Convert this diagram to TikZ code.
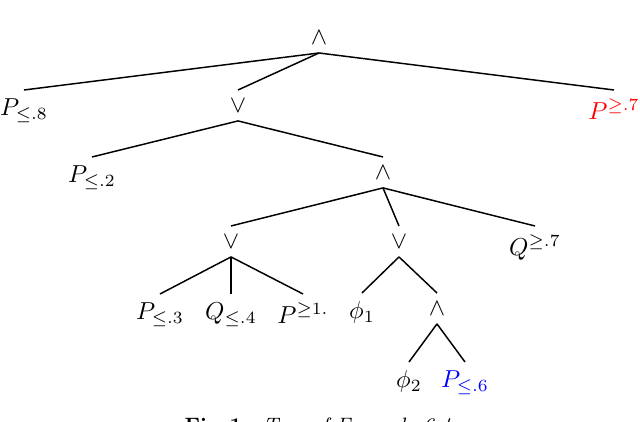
\documentclass[tikz,border=0pt]{standalone}
\begin{document}
\begin{tikzpicture}[x=0.408pt,y=-0.408pt,
  nd/.style={anchor=north,inner sep=3.333pt},
  edge/.style={line width=0.6pt,black}]
\useasboundingbox (0,0) rectangle (640,422);
\node[anchor=south,inner sep=3.333pt] (r) at (319,53) {$\wedge$};
\node[nd] (a) at (24,90) {$P_{\leq .8}$};
\node[nd] (b) at (238,90) {$\vee$};
\node[nd,text=red] (c) at (614,90) {$P^{\geq .7}$};
\node[nd] (d) at (92,157) {$P_{\leq .2}$};
\node[nd] (e) at (383,157) {$\wedge$};
\node[nd] (f) at (231,226) {$\vee$};
\node[nd] (g) at (399,226) {$\vee$};
\node[nd] (h) at (535,226) {$Q^{\geq .7}$};
\node[nd] (i) at (160,294) {$P_{\leq .3}$};
\node[nd] (j) at (231,294) {$Q_{\leq .4}$};
\node[nd] (k) at (303,294) {$P^{\geq 1.}$};
\node[nd] (l) at (362,293) {$\phi_1$};
\node[nd] (m) at (437,293) {$\wedge$};
\node[nd] (n) at (409,362) {$\phi_2$};
\node[nd,text=blue] (o) at (465,362) {$P_{\leq .6}$};
\node[anchor=base,font=\fontsize{8.5}{10}\selectfont] (cap) at (318,433) {\textbf{Fig.\,1.}\ \ \textit{Tree of Example 6.4}};
\draw[edge] (r.south) -- (a.north);
\draw[edge] (r.south) -- (b.north);
\draw[edge] (r.south) -- (c.north);
\draw[edge] (b.south) -- (d.north);
\draw[edge] (b.south) -- (e.north);
\draw[edge] (e.south) -- (f.north);
\draw[edge] (e.south) -- (g.north);
\draw[edge] (e.south) -- (h.north);
\draw[edge] (f.south) -- (i.north);
\draw[edge] (f.south) -- (j.north);
\draw[edge] (f.south) -- (k.north);
\draw[edge] (g.south) -- (l.north);
\draw[edge] (g.south) -- (m.north);
\draw[edge] (m.south) -- (n.north);
\draw[edge] (m.south) -- (o.north);
\end{tikzpicture}
\end{document}
